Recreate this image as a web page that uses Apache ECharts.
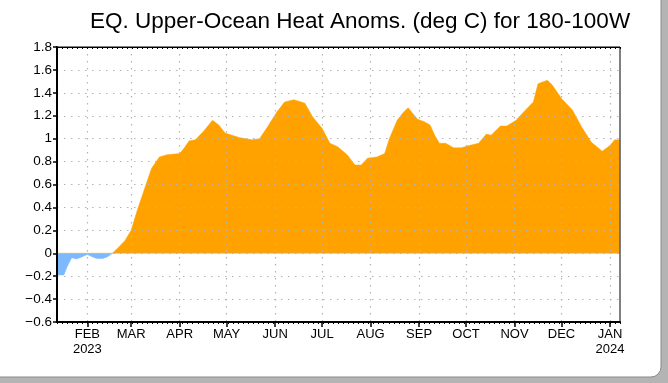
<!DOCTYPE html>
<html>
<head>
<meta charset="utf-8">
<script src="https://cdn.jsdelivr.net/npm/echarts@6/dist/echarts.min.js"></script>
<style>
html,body{margin:0;padding:0;background:#b4b4b4;}
#chart{width:668px;height:383px;}
</style>
</head>
<body>
<div id="chart"></div>
<script>
// ---- data ----
const dates = ['2023-01-13','2023-01-17','2023-01-19','2023-01-22','2023-01-25','2023-01-28','2023-02-01','2023-02-04','2023-02-07','2023-02-11','2023-02-14','2023-02-17','2023-02-20','2023-02-25','2023-03-01','2023-03-05','2023-03-10','2023-03-14','2023-03-19','2023-03-24','2023-04-01','2023-04-04','2023-04-07','2023-04-11','2023-04-16','2023-04-22','2023-04-26','2023-04-30','2023-05-09','2023-05-17','2023-05-22','2023-05-27','2023-06-02','2023-06-07','2023-06-13','2023-06-20','2023-06-25','2023-07-01','2023-07-06','2023-07-11','2023-07-17','2023-07-22','2023-07-26','2023-07-30','2023-08-05','2023-08-10','2023-08-13','2023-08-18','2023-08-22','2023-08-25','2023-08-31','2023-09-04','2023-09-08','2023-09-11','2023-09-14','2023-09-18','2023-09-23','2023-09-28','2023-10-03','2023-10-09','2023-10-14','2023-10-17','2023-10-23','2023-10-27','2023-11-02','2023-11-08','2023-11-13','2023-11-16','2023-11-22','2023-11-25','2023-12-01','2023-12-08','2023-12-14','2023-12-20','2023-12-27','2024-01-01','2024-01-04','2024-01-07'];
const values = [-0.19,-0.19,-0.12,-0.04,-0.05,-0.035,-0.01,-0.03,-0.045,-0.045,-0.03,0.0,0.04,0.11,0.2,0.38,0.58,0.74,0.84,0.86,0.87,0.92,0.98,0.99,1.06,1.16,1.12,1.05,1.01,0.99,1.0,1.1,1.23,1.32,1.34,1.31,1.19,1.09,0.96,0.93,0.86,0.77,0.77,0.83,0.84,0.87,1.0,1.16,1.23,1.27,1.17,1.15,1.12,1.03,0.96,0.96,0.92,0.92,0.94,0.96,1.04,1.03,1.11,1.11,1.16,1.25,1.32,1.48,1.51,1.47,1.35,1.25,1.1,0.97,0.89,0.94,0.99,0.99];
const monthTicks = ['2023-02-01','2023-03-01','2023-04-01','2023-05-01','2023-06-01','2023-07-01','2023-08-01','2023-09-01','2023-10-01','2023-11-01','2023-12-01','2024-01-01'];
const monthLabels = ['FEB\n2023','MAR','APR','MAY','JUN','JUL','AUG','SEP','OCT','NOV','DEC','JAN\n2024'];
const titleText = 'EQ. Upper-Ocean Heat Anoms. (deg C) for 180-100W';
const yMin = -0.6, yMax = 1.8, yStep = 0.2;

// day number since 2023-01-01
function dayNum(s){ const p=s.split('-').map(Number); return Math.round((Date.UTC(p[0],p[1]-1,p[2]) - Date.UTC(2023,0,1))/86400000); }
const tickDays = monthTicks.map(dayNum);
const labelMap = {}; tickDays.forEach((t,i)=>labelMap[t]=monthLabels[i]);
const xMin = dayNum('2023-01-12') + 0.6;
const xMax = dayNum('2024-01-07') + 0.4;
const fontF = 'Liberation Sans, sans-serif';
const posData = dates.map((d,i)=>[dayNum(d), Math.max(values[i],0)]);
const negData = dates.map((d,i)=>[dayNum(d), Math.min(values[i],0)]);
const gridLine = {color:'#b4b4b4', type:[1.5,5.5], width:1.2};

const chart = echarts.init(document.getElementById('chart'), null, {renderer:'canvas'});
chart.setOption({
  animation:false,
  backgroundColor:'transparent',
  graphic:[{type:'rect', z:-10, silent:true, shape:{x:-20,y:-20,width:681,height:397,r:10}, style:{fill:'#fff', stroke:'#8a8a8a', lineWidth:1}}],
  title:{text:titleText, left:355, top:5, textAlign:'center',
    textStyle:{fontFamily:fontF, fontSize:22.5, fontWeight:'normal', color:'#000'}},
  grid:{left:57, right:48, top:47, bottom:61, show:true, borderColor:'#000', borderWidth:1, backgroundColor:'transparent', zlevel:1},
  xAxis:[{
    type:'value', min:xMin, max:xMax, zlevel:1,
    axisLine:{show:true, onZero:false, lineStyle:{color:'#000', width:2}},
    axisTick:{show:true, customValues:tickDays, length:5, lineStyle:{color:'#000', width:1.5}},
    axisLabel:{customValues:tickDays, formatter:v=>labelMap[Math.round(v)]||'', color:'#000',
      fontFamily:fontF, fontSize:13, lineHeight:15, margin:5, hideOverlap:false},
    splitLine:{show:true, lineStyle:gridLine}
  },{
    type:'value', min:0, max:112, interval:1, position:'bottom', zlevel:1,
    axisLine:{show:false, onZero:false}, axisLabel:{show:false}, splitLine:{show:false},
    axisTick:{show:true, length:2, lineStyle:{color:'#000', width:1}}
  },{
    type:'value', min:0, max:112, interval:1, position:'top', zlevel:1,
    axisLine:{show:true, onZero:false, lineStyle:{color:'#000', width:1}}, axisLabel:{show:false}, splitLine:{show:false},
    axisTick:{show:true, inside:true, length:2, lineStyle:{color:'#000', width:1}}
  }],
  yAxis:{
    type:'value', min:yMin, max:yMax, interval:yStep, zlevel:1,
    axisLine:{show:true, onZero:false, lineStyle:{color:'#000', width:2}},
    axisTick:{show:true, length:4, lineStyle:{color:'#000', width:1.5}},
    axisLabel:{color:'#000', fontFamily:fontF, fontSize:13.5, margin:5,
      formatter:v=>String(Math.round(v*10)/10).replace('-','\u2212')},
    splitLine:{show:true, lineStyle:gridLine}
  },
  series:[{
    type:'line', xAxisIndex:0, yAxisIndex:0, showSymbol:false, symbol:'none',
    data:posData, color:'#ffa200',
    lineStyle:{width:0.5, color:'#ffa200'}, areaStyle:{opacity:1, color:'#ffa200', origin:0}, z:2
  },{
    type:'line', xAxisIndex:0, yAxisIndex:0, showSymbol:false, symbol:'none',
    data:negData, color:'#7cb9ff',
    lineStyle:{width:0.5, color:'#7cb9ff'}, areaStyle:{opacity:1, color:'#7cb9ff', origin:0}, z:2
  }]
});
</script>
</body>
</html>
